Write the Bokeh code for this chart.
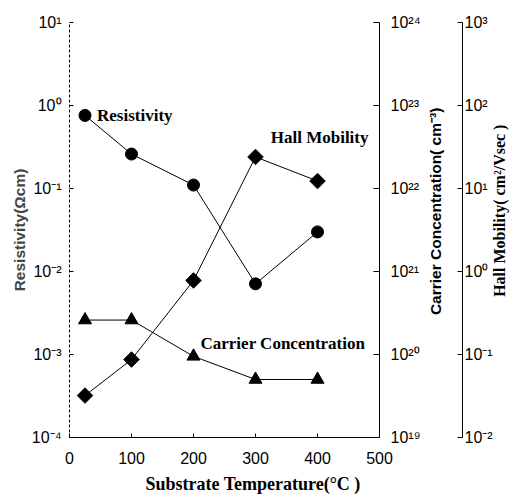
import math
from bokeh.plotting import figure
from bokeh.models import (Range1d, LogAxis, LogScale, FixedTicker,
                          CustomJSTickFormatter, Label, Title)
from bokeh.embed import file_html
from bokeh.resources import INLINE

# ---- data ----
temperature = [25, 100, 200, 300, 400]
resistivity = [0.76, 0.26, 0.11, 0.0071, 0.030]
carrier_conc = [2.6e20, 2.6e20, 9.5e19, 5.0e19, 5.0e19]
hall_mobility = [0.032, 0.087, 0.78, 24.0, 12.3]

x_ticks = [0, 100, 200, 300, 400, 500]
res_ticks = [1e-4, 1e-3, 1e-2, 1e-1, 1e0, 1e1]
carrier_ticks = [1e19, 1e20, 1e21, 1e22, 1e23, 1e24]
hall_ticks = [1e-2, 1e-1, 1e0, 1e1, 1e2, 1e3]

SANS = "Liberation Sans"
SERIF = "Liberation Serif"

fmt_code = """
const sup = {"-":"\u207b","0":"\u2070","1":"\u00b9","2":"\u00b2","3":"\u00b3",
             "4":"\u2074","5":"\u2075","6":"\u2076","7":"\u2077","8":"\u2078","9":"\u2079"};
const e = Math.round(Math.log10(tick));
return "10" + String(e).split("").map(c => sup[c]).join("");
"""

W, H = 517, 498
p = figure(width=W, height=H,
           x_range=Range1d(0, 500), y_range=Range1d(1e-4, 1e1),
           y_axis_type="log", output_backend="svg", toolbar_location=None,
           min_border_left=69, min_border_right=138, min_border_top=22,
           min_border_bottom=61)
p.outline_line_color = None
p.xgrid.grid_line_color = None
p.ygrid.grid_line_color = None
p.background_fill_color = "white"
p.border_fill_color = "white"

p.extra_y_ranges = {"carrier": Range1d(1e19, 1e24), "hall": Range1d(1e-2, 1e3)}
p.extra_y_scales = {"carrier": LogScale(), "hall": LogScale()}


def style_axis(ax, tick_in, standoff):
    ax.major_tick_in = tick_in
    ax.major_tick_out = 0
    ax.minor_tick_line_color = None
    ax.axis_line_color = "black"
    ax.major_tick_line_color = "black"
    ax.major_label_text_font = SANS
    ax.major_label_text_font_size = "16px"
    ax.major_label_text_color = "black"
    ax.major_label_standoff = standoff


# left axis: resistivity
ly = p.yaxis[0]
ly.ticker = FixedTicker(ticks=res_ticks)
ly.formatter = CustomJSTickFormatter(code=fmt_code)
style_axis(ly, 4, 8)
ly.axis_line_dash = "3 2"
ly.axis_label = "Resistivity(\u03a9cm)"
ly.axis_label_text_font = SANS
ly.axis_label_text_font_style = "bold"
ly.axis_label_text_font_size = "15.5px"
ly.axis_label_standoff = 1

# bottom axis
bx = p.xaxis[0]
bx.ticker = FixedTicker(ticks=x_ticks)
style_axis(bx, 4, 14)

title_kw = dict(angle=math.pi / 2, text_align="center", text_baseline="middle",
                text_font_style="bold", text_color="black")

# carrier-concentration axis (blank label slot reserves room for its title)
cax = LogAxis(y_range_name="carrier", ticker=FixedTicker(ticks=carrier_ticks),
              formatter=CustomJSTickFormatter(code=fmt_code))
style_axis(cax, 6, 11)
cax.axis_label = " "
cax.axis_label_text_font = SANS
cax.axis_label_text_font_size = "15.5px"
cax.axis_label_standoff = 2
p.add_layout(cax, "right")

# carrier title, reading bottom to top, in the panel between the two axes
p.add_layout(Label(x=590, y=0.053, text="Carrier Concentration( cm\u207b\u00b3)",
                   text_font=SANS, text_font_size="15.5px", **title_kw), "right")

# Hall-mobility axis
hax = LogAxis(y_range_name="hall", ticker=FixedTicker(ticks=hall_ticks),
              formatter=CustomJSTickFormatter(code=fmt_code))
style_axis(hax, 5, 2)
p.add_layout(hax, "right")

p.add_layout(Label(x=693, y=0.054, text="Hall Mobility( cm\u00b2/Vsec )",
                   text_font=SERIF, text_font_size="16px", **title_kw), "right")

# bottom title
xt = Title(text="Substrate Temperature(\u00b0C )", align="left", offset=76,
           standoff=10, text_font=SERIF, text_font_style="bold",
           text_font_size="18px", text_color="black")
p.add_layout(xt, "below")

# series
p.line(temperature, resistivity, line_color="black", line_width=1)
p.scatter(temperature, resistivity, marker="circle", size=12, color="black")

p.line(temperature, carrier_conc, line_color="black", line_width=1,
       y_range_name="carrier")
p.scatter(temperature, carrier_conc, marker="triangle", size=13, color="black",
          y_range_name="carrier")

p.line(temperature, hall_mobility, line_color="black", line_width=1,
       y_range_name="hall")
p.scatter(temperature, hall_mobility, marker="square", angle=math.pi / 4,
          size=11, color="black", y_range_name="hall")

# in-plot labels anchored at data points
lab_kw = dict(text_font=SERIF, text_font_style="bold", text_font_size="17px",
              text_color="black", text_baseline="middle")
p.add_layout(Label(x=temperature[0], y=resistivity[0], text="Resistivity",
                   x_offset=12, y_offset=0, **lab_kw))
p.add_layout(Label(x=temperature[3], y=hall_mobility[3], y_range_name="hall",
                   text="Hall Mobility", text_align="right",
                   x_offset=113, y_offset=19, **lab_kw))
p.add_layout(Label(x=temperature[3], y=carrier_conc[3], y_range_name="carrier",
                   text="Carrier Concentration", x_offset=-55, y_offset=36,
                   **lab_kw))

open("out.html", "w").write(file_html(p, INLINE))
